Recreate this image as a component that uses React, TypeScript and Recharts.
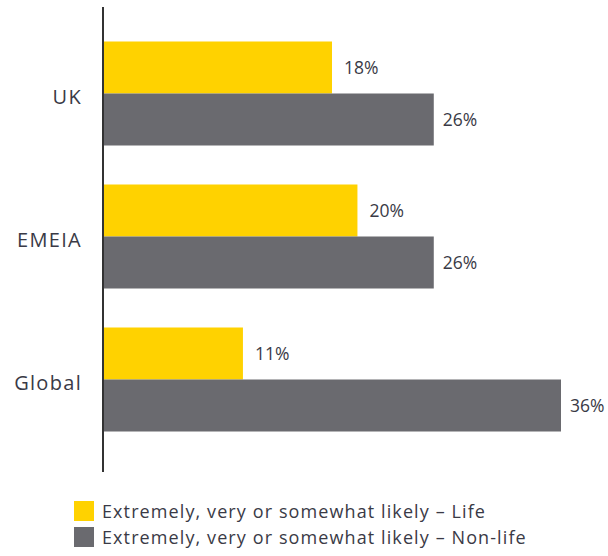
import React from "react";
import { BarChart, Bar, XAxis, YAxis, LabelList } from "recharts";

const categories = ["UK", "EMEIA", "Global"];
const lifeValues = [18, 20, 11];
const nonLifeValues = [26, 26, 36];
const seriesNames = [
  "Extremely, very or somewhat likely – Life",
  "Extremely, very or somewhat likely – Non-life",
];
const colors = ["#FFD200", "#6A6A6F"];

const data = categories.map((c, i) => ({ name: c, life: lifeValues[i], nonlife: nonLifeValues[i] }));

const FONT = "'Open Sans', 'Noto Sans', sans-serif";
const TEXT = "#3A3A46";

export default function App() {
  return (
    <div style={{ position: "absolute", left: 0, top: 0, width: 608, height: 556, background: "#fff", fontFamily: FONT }}>
      <BarChart
        width={608}
        height={480}
        data={data}
        layout="vertical"
        margin={{ top: 7, right: 47, bottom: 8, left: 0 }}
        barSize={52}
        barGap={0}
      >
        <XAxis type="number" domain={[0, 36]} hide />
        <YAxis
          type="category"
          dataKey="name"
          width={103}
          padding={{ top: 14.5, bottom: 21.5 }}
          axisLine={{ stroke: "#333", strokeWidth: 2 }}
          tickLine={false}
          tickMargin={15}
          tick={{ fill: TEXT, fontSize: 20, fontFamily: FONT, dy: 4, letterSpacing: 1.3 }}
        />
        <Bar dataKey="life" fill={colors[0]} isAnimationActive={false}>
          <LabelList dataKey="life" position="right" offset={12} formatter={(v: any) => `${v}%`} style={{ fill: TEXT, fontSize: 17.5, fontFamily: FONT }} />
        </Bar>
        <Bar dataKey="nonlife" fill={colors[1]} isAnimationActive={false}>
          <LabelList dataKey="nonlife" position="right" offset={9} formatter={(v: any) => `${v}%`} style={{ fill: TEXT, fontSize: 17.5, fontFamily: FONT }} />
        </Bar>
      </BarChart>
      {seriesNames.map((n, i) => (
        <div key={n} style={{ position: "absolute", left: 74, top: 501 + i * 26, height: 20, display: "flex", alignItems: "center", color: TEXT, fontSize: 18, letterSpacing: 1.1, whiteSpace: "nowrap" }}>
          <div style={{ width: 20, height: 20, background: colors[i], marginRight: 8 }} />
          <span>{n}</span>
        </div>
      ))}
    </div>
  );
}
